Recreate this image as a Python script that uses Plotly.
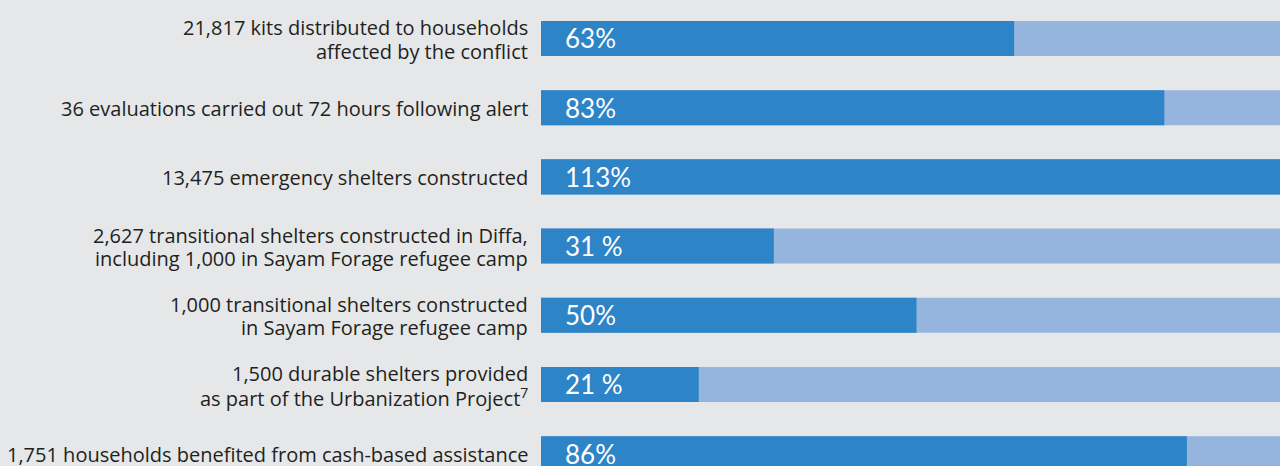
import plotly.graph_objects as go

labels = [
    "21,817 kits distributed to households<br>affected by the conflict",
    "36 evaluations carried out 72 hours following alert",
    "13,475 emergency shelters constructed",
    "2,627 transitional shelters constructed in Diffa,<br>including 1,000 in Sayam Forage refugee camp",
    "1,000 transitional shelters constructed<br>in Sayam Forage refugee camp",
    "1,500 durable shelters provided<br>as part of the Urbanization Project<sup>7</sup>",
    "1,751 households benefited from cash-based assistance",
]
values = [63, 83, 113, 31, 50, 21, 86]
pct_text = ["63%", "83%", "113%", "31 %", "50%", "21 %", "86%"]
target = [100] * 7

ypos = list(range(len(labels)))

DARK = "#2d84c6"
LIGHT = "#95b5df"
BG = "#e6e7e9"
LINE_GAP = 23.3

fig = go.Figure()
fig.add_trace(go.Bar(x=target, y=ypos, orientation="h", marker=dict(color=LIGHT, line=dict(width=0)),
                     width=0.506, hoverinfo="skip", showlegend=False))
fig.add_trace(go.Bar(x=values, y=ypos, orientation="h", marker=dict(color=DARK, line=dict(width=0)),
                     width=0.506, hoverinfo="skip", showlegend=False))

for i, (lab, pt) in enumerate(zip(labels, pct_text)):
    lines = lab.split("<br>")
    n = len(lines)
    for j, line in enumerate(lines):
        fig.add_annotation(x=530 / 1280, xref="paper", y=i, yref="y", text=line, showarrow=False,
                           xanchor="right", yanchor="middle", align="right",
                           yshift=-(j - (n - 1) / 2) * LINE_GAP - 1,
                           font=dict(family="Open Sans", size=20, color="#231f20"))
    fig.add_annotation(x=0, xref="x", xshift=22, y=i, yref="y", text=pt, showarrow=False,
                       xanchor="left", yanchor="middle", align="left",
                       font=dict(family="Lato", size=26, color="white", weight=400))

fig.update_layout(
    width=1280, height=466,
    margin=dict(l=0, r=0, t=0, b=0),
    paper_bgcolor=BG, plot_bgcolor=BG,
    barmode="overlay",
    xaxis=dict(domain=[541 / 1280, 1], range=[0, 98.4], visible=False, fixedrange=True),
    yaxis=dict(range=[6.178, -0.556], visible=False, fixedrange=True),
    showlegend=False,
)

fig.write_html("out.html", config={"displayModeBar": False},
               post_script="document.body.style.margin='0';document.body.style.background='%s';" % BG)
